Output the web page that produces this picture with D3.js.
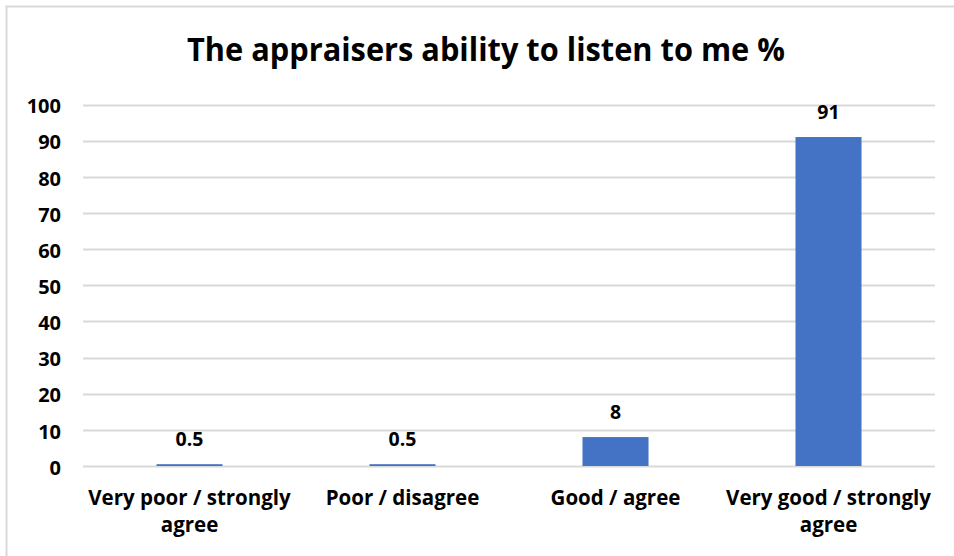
<!DOCTYPE html>
<html>
<head>
<meta charset="utf-8">
<script src="https://cdn.jsdelivr.net/npm/d3@7"></script>
<style>
  html, body { margin: 0; padding: 0; background: #fff; }
  svg { display: block; }
  text { font-family: "Open Sans", Lato, sans-serif; font-weight: bold; fill: #000; }
</style>
</head>
<body>
<svg id="chart" width="954" height="556"></svg>
<script>
// Survey responses, percent of respondents
const categories = [
  ["Very poor / strongly", "agree"],
  ["Poor / disagree"],
  ["Good / agree"],
  ["Very good / strongly", "agree"]
];
const values = [0.5, 0.5, 8, 91];
const yTicks = [0, 10, 20, 30, 40, 50, 60, 70, 80, 90, 100];
const title = "The appraisers ability to listen to me %";

const svg = d3.select("#chart");
const W = 954, H = 556;
const plot = { left: 83, right: 935, top: 104.5, bottom: 466 };
const FONT = "'Open Sans', Lato, sans-serif";

// chart frame (only the top and left edges fall inside the view)
svg.append("rect")
  .attr("x", 6.5).attr("y", 6.5)
  .attr("width", W + 20).attr("height", H + 20)
  .attr("fill", "#fff").attr("stroke", "#d9d9d9").attr("stroke-width", 2);

const x = d3.scaleBand()
  .domain(d3.range(categories.length))
  .range([plot.left, plot.right])
  .paddingInner(0).paddingOuter(0);

const y = d3.scaleLinear().domain([0, 100]).range([plot.bottom, plot.top]);

// gridlines
svg.append("g")
  .selectAll("line")
  .data(yTicks)
  .join("line")
  .attr("x1", plot.left).attr("x2", plot.right)
  .attr("y1", d => Math.round(y(d)) + 0.5).attr("y2", d => Math.round(y(d)) + 0.5)
  .attr("stroke", "#d9d9d9").attr("stroke-width", 2);

// y axis labels
const yAxis = d3.axisLeft(y).tickValues(yTicks).tickSize(0).tickPadding(0);
const gy = svg.append("g").attr("transform", `translate(61,1)`).call(yAxis);
gy.select(".domain").remove();
gy.selectAll("text")
  .attr("font-size", 20)
  .attr("font-family", FONT)
  .attr("font-weight", "bold")
  .attr("fill", "#000")
  .attr("dy", "0.36em");

// bars
const barW = x.bandwidth() * 0.31;
svg.append("g")
  .selectAll("rect")
  .data(values)
  .join("rect")
  .attr("x", (d, i) => x(i) + (x.bandwidth() - barW) / 2)
  .attr("y", d => y(d))
  .attr("width", barW)
  .attr("height", d => y(0) - y(d))
  .attr("fill", "#4472c4");

// value labels
svg.append("g")
  .selectAll("text")
  .data(values)
  .join("text")
  .attr("x", (d, i) => x(i) + x.bandwidth() / 2)
  .attr("y", d => y(d) - 18)
  .attr("text-anchor", "middle")
  .attr("font-size", 19.5)
  .text(d => d);

// category labels
const cat = svg.append("g")
  .selectAll("text")
  .data(categories)
  .join("text")
  .attr("x", (d, i) => x(i) + x.bandwidth() / 2)
  .attr("y", 505)
  .attr("text-anchor", "middle")
  .attr("font-size", 20.5);
cat.selectAll("tspan")
  .data(d => d)
  .join("tspan")
  .attr("x", function () { return this.parentNode.getAttribute("x"); })
  .attr("dy", (d, i) => i === 0 ? 0 : 27)
  .text(d => d);

// title
svg.append("text")
  .attr("x", 486)
  .attr("y", 61)
  .attr("text-anchor", "middle")
  .attr("font-size", 33)
  .attr("textLength", 598)
  .attr("lengthAdjust", "spacingAndGlyphs")
  .text(title);
</script>
</body>
</html>
